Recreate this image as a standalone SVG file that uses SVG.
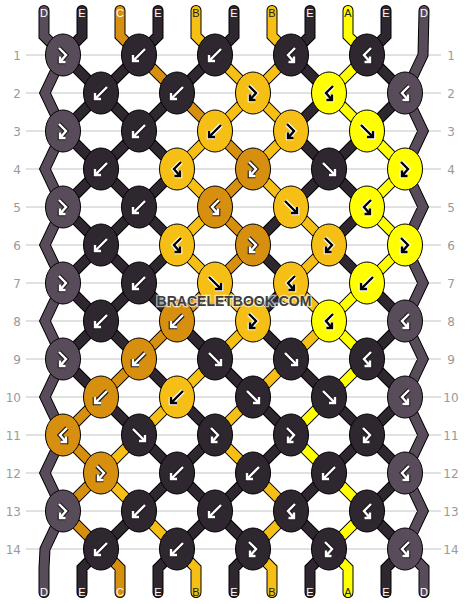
<svg xmlns="http://www.w3.org/2000/svg" xmlns:xlink="http://www.w3.org/1999/xlink" width="468" height="604" viewBox="0 0 468 604">
<style>
.grid{fill:none;stroke:#c4c4c4;stroke-width:1}
.rn{font-family:"DejaVu Sans","Liberation Sans",sans-serif;font-size:12px;fill:#9a9a9a}
.o{fill:none;stroke:#000;stroke-width:11;stroke-linecap:round;stroke-linejoin:miter}
.s{fill:none;stroke-width:9;stroke-linecap:round;stroke-linejoin:miter}
.sD{stroke:#594c5a}.sE{stroke:#2f272f}.sC{stroke:#d78f0f}.sB{stroke:#f6bf15}.sA{stroke:#ffff00}
ellipse{stroke:#000;stroke-width:1}
.D{fill:#594c5a}.E{fill:#2f272f}.C{fill:#d78f0f}.B{fill:#f6bf15}.A{fill:#ffff00}
.w{color:#1e1a1e;stroke:#fff}
.k{color:#fff;stroke:#000}
.lb{font-family:"Liberation Sans",Arial,sans-serif;font-size:11px;text-anchor:middle}
.lw{fill:#fff}.ld{fill:#222}
.wm{font-family:"Liberation Sans",Arial,sans-serif;font-size:14px;font-weight:bold;text-anchor:middle;fill:#3e3e3e;stroke:#fff;stroke-opacity:.65;stroke-width:2.5;paint-order:stroke}
</style>
<defs>
<g id="F" fill="none" stroke-linejoin="miter"><path d="M-6,-6L6,6M6,0V6H0" stroke="currentColor" stroke-width="4.6"/><path d="M-6,-6L6,6M6,0V6H0" stroke-width="2.4"/></g>
<g id="B" fill="none" stroke-linejoin="miter"><path d="M6,-6L-6,6M-6,0V6H0" stroke="currentColor" stroke-width="4.6"/><path d="M6,-6L-6,6M-6,0V6H0" stroke-width="2.4"/></g>
<g id="FB" fill="none" stroke-linejoin="miter"><path d="M-4,-7L3,0L-3,7M-3,1.5V7H2.5" stroke="currentColor" stroke-width="4.6"/><path d="M-4,-7L3,0L-3,7M-3,1.5V7H2.5" stroke-width="2.4"/></g>
<g id="BF" fill="none" stroke-linejoin="miter"><path d="M4,-7L-3,0L3,7M3,1.5V7H-2.5" stroke="currentColor" stroke-width="4.6"/><path d="M4,-7L-3,0L3,7M3,1.5V7H-2.5" stroke-width="2.4"/></g>
</defs>
<rect width="468" height="604" fill="#fff"/>
<g id="rows">
<path class="grid" d="M26,55H441M26,93H441M26,131H441M26,169H441M26,207H441M26,245H441M26,283H441M26,321H441M26,359H441M26,397H441M26,435H441M26,473H441M26,511H441M26,549H441"/>
<g class="rn" text-anchor="end">
<text x="21" y="59.5">1</text><text x="21" y="97.5">2</text><text x="21" y="135.5">3</text><text x="21" y="173.5">4</text><text x="21" y="211.5">5</text><text x="21" y="249.5">6</text><text x="21" y="287.5">7</text><text x="21" y="325.5">8</text><text x="21" y="363.5">9</text><text x="21" y="401.5">10</text><text x="21" y="439.5">11</text><text x="21" y="477.5">12</text><text x="21" y="515.5">13</text><text x="21" y="553.5">14</text>
</g>
<g class="rn" text-anchor="middle">
<text x="451" y="59.5">1</text><text x="451" y="97.5">2</text><text x="451" y="135.5">3</text><text x="451" y="173.5">4</text><text x="451" y="211.5">5</text><text x="451" y="249.5">6</text><text x="451" y="287.5">7</text><text x="451" y="325.5">8</text><text x="451" y="363.5">9</text><text x="451" y="401.5">10</text><text x="451" y="439.5">11</text><text x="451" y="477.5">12</text><text x="451" y="515.5">13</text><text x="451" y="553.5">14</text>
</g>
</g>
<g id="connectors">
<path id="allpaths" class="o" d="M367,55L405,93M291,55L405,169M215,55L405,245M139,55L405,321M63,55L405,397M63,131L405,473M63,207L405,549M63,283L329,549M63,359L253,549M63,435L177,549M63,511L101,549M139,55L63,131M215,55L63,207M291,55L63,283M367,55L63,359M405,93L63,435M405,169L63,511M405,245L101,549M405,321L177,549M405,397L253,549M405,473L329,549M82,10.5V36L63,55M120,10.5V36L139,55M158,10.5V36L139,55M196,10.5V36L215,55M234,10.5V36L215,55M272,10.5V36L291,55M310,10.5V36L291,55M348,10.5V36L367,55M386,10.5V36L367,55M101,549L82,568V592.5M101,549L120,568V592.5M177,549L158,568V592.5M177,549L196,568V592.5M253,549L234,568V592.5M253,549L272,568V592.5M329,549L310,568V592.5M329,549L348,568V592.5M405,549L386,568V592.5M44,10.5V36L63,55L45,93L63,131L45,169L63,207L45,245L63,283L45,321L63,359L45,397L63,435L45,473L63,511L45,549L44,568V592.5M424,10.5L423,55L405,93L423,131L405,169L423,207L405,245L423,283L405,321L423,359L405,397L423,435L405,473L423,511L405,549L424,568V592.5"/>
<path class="s sE" d="M367,55L405,93M291,55L405,169M215,55L405,245M139,55L405,321M63,55L405,397M63,131L405,473M63,207L405,549M63,283L329,549M63,359L253,549M63,435L177,549M63,511L101,549M139,55L63,131M215,55L63,207M291,55L63,283M367,55L63,359M405,93L63,435M405,169L63,511M405,245L101,549M405,321L177,549M405,397L253,549M405,473L329,549M82,10.5V36L63,55M158,10.5V36L139,55M234,10.5V36L215,55M310,10.5V36L291,55M386,10.5V36L367,55M101,549L82,568V592.5M177,549L158,568V592.5M253,549L234,568V592.5M329,549L310,568V592.5M405,549L386,568V592.5"/>
<path class="s sD" d="M44,10.5V36L63,55L45,93L63,131L45,169L63,207L45,245L63,283L45,321L63,359L45,397L63,435L45,473L63,511L45,549L44,568V592.5M424,10.5L423,55L405,93L423,131L405,169L423,207L405,245L423,283L405,321L423,359L405,397L423,435L405,473L423,511L405,549L424,568V592.5"/>
<path class="s sC" d="M120,10.5V36L139,55M139,55L177,93M177,93L215,131M215,131L253,169M253,169L215,207M215,207L253,245M253,245L215,283M215,283L177,321M177,321L139,359M139,359L101,397M101,397L63,435M63,435L101,473M101,473L63,511M63,511L101,549M101,549L120,568V592.5"/>
<path class="s sB" d="M196,10.5V36L215,55M272,10.5V36L291,55M215,55L253,93M291,55L253,93M253,93L215,131M253,93L291,131M215,131L177,169M291,131L253,169M177,169L215,207M253,169L291,207M215,207L177,245M291,207L329,245M177,245L215,283M329,245L291,283M215,283L253,321M291,283L329,321M253,321L215,359M329,321L291,359M215,359L177,397M291,359L253,397M177,397L139,435M253,397L215,435M139,435L101,473M215,435L253,473M101,473L139,511M253,473L291,511M139,511L177,549M291,511L253,549M177,549L196,568V592.5M253,549L272,568V592.5"/>
<path class="s sA" d="M348,10.5V36L367,55M367,55L329,93M329,93L367,131M367,131L405,169M405,169L367,207M367,207L405,245M405,245L367,283M367,283L329,321M329,321L367,359M367,359L329,397M329,397L291,435M291,435L329,473M329,473L367,511M367,511L329,549M329,549L348,568V592.5"/>
</g>
<g id="strings-top">
<text class="lb lw" x="44" y="16.5">D</text><text class="lb lw" x="82" y="16.5">E</text><text class="lb lw" x="120" y="16.5">C</text><text class="lb lw" x="158" y="16.5">E</text><text class="lb ld" x="196" y="16.5">B</text><text class="lb lw" x="234" y="16.5">E</text><text class="lb ld" x="272" y="16.5">B</text><text class="lb lw" x="310" y="16.5">E</text><text class="lb ld" x="348" y="16.5">A</text><text class="lb lw" x="386" y="16.5">E</text><text class="lb lw" x="424" y="16.5">D</text>
</g>
<g id="strings-bottom">
<text class="lb lw" x="44" y="595.5">D</text><text class="lb lw" x="82" y="595.5">E</text><text class="lb lw" x="120" y="595.5">C</text><text class="lb lw" x="158" y="595.5">E</text><text class="lb ld" x="196" y="595.5">B</text><text class="lb lw" x="234" y="595.5">E</text><text class="lb ld" x="272" y="595.5">B</text><text class="lb lw" x="310" y="595.5">E</text><text class="lb ld" x="348" y="595.5">A</text><text class="lb lw" x="386" y="595.5">E</text><text class="lb lw" x="424" y="595.5">D</text>
</g>
<g id="knots">
<g id="k1-1"><ellipse class="D" cx="63" cy="55" rx="17.5" ry="21"/><use href="#FB" x="63" y="55" class="w"/></g>
<g id="k1-2"><ellipse class="E" cx="139" cy="55" rx="17.5" ry="21"/><use href="#B" x="139" y="55" class="w"/></g>
<g id="k1-3"><ellipse class="E" cx="215" cy="55" rx="17.5" ry="21"/><use href="#B" x="215" y="55" class="w"/></g>
<g id="k1-4"><ellipse class="E" cx="291" cy="55" rx="17.5" ry="21"/><use href="#BF" x="291" y="55" class="w"/></g>
<g id="k1-5"><ellipse class="E" cx="367" cy="55" rx="17.5" ry="21"/><use href="#BF" x="367" y="55" class="w"/></g>
<g id="k2-1"><ellipse class="E" cx="101" cy="93" rx="17.5" ry="21"/><use href="#B" x="101" y="93" class="w"/></g>
<g id="k2-2"><ellipse class="E" cx="177" cy="93" rx="17.5" ry="21"/><use href="#B" x="177" y="93" class="w"/></g>
<g id="k2-3"><ellipse class="B" cx="253" cy="93" rx="17.5" ry="21"/><use href="#FB" x="253" y="93" class="k"/></g>
<g id="k2-4"><ellipse class="A" cx="329" cy="93" rx="17.5" ry="21"/><use href="#BF" x="329" y="93" class="k"/></g>
<g id="k2-5"><ellipse class="D" cx="405" cy="93" rx="17.5" ry="21"/><use href="#BF" x="405" y="93" class="w"/></g>
<g id="k3-1"><ellipse class="D" cx="63" cy="131" rx="17.5" ry="21"/><use href="#FB" x="63" y="131" class="w"/></g>
<g id="k3-2"><ellipse class="E" cx="139" cy="131" rx="17.5" ry="21"/><use href="#B" x="139" y="131" class="w"/></g>
<g id="k3-3"><ellipse class="B" cx="215" cy="131" rx="17.5" ry="21"/><use href="#B" x="215" y="131" class="k"/></g>
<g id="k3-4"><ellipse class="B" cx="291" cy="131" rx="17.5" ry="21"/><use href="#FB" x="291" y="131" class="k"/></g>
<g id="k3-5"><ellipse class="A" cx="367" cy="131" rx="17.5" ry="21"/><use href="#F" x="367" y="131" class="k"/></g>
<g id="k4-1"><ellipse class="E" cx="101" cy="169" rx="17.5" ry="21"/><use href="#B" x="101" y="169" class="w"/></g>
<g id="k4-2"><ellipse class="B" cx="177" cy="169" rx="17.5" ry="21"/><use href="#BF" x="177" y="169" class="k"/></g>
<g id="k4-3"><ellipse class="C" cx="253" cy="169" rx="17.5" ry="21"/><use href="#FB" x="253" y="169" class="w"/></g>
<g id="k4-4"><ellipse class="E" cx="329" cy="169" rx="17.5" ry="21"/><use href="#F" x="329" y="169" class="w"/></g>
<g id="k4-5"><ellipse class="A" cx="405" cy="169" rx="17.5" ry="21"/><use href="#FB" x="405" y="169" class="k"/></g>
<g id="k5-1"><ellipse class="D" cx="63" cy="207" rx="17.5" ry="21"/><use href="#FB" x="63" y="207" class="w"/></g>
<g id="k5-2"><ellipse class="E" cx="139" cy="207" rx="17.5" ry="21"/><use href="#B" x="139" y="207" class="w"/></g>
<g id="k5-3"><ellipse class="C" cx="215" cy="207" rx="17.5" ry="21"/><use href="#BF" x="215" y="207" class="w"/></g>
<g id="k5-4"><ellipse class="B" cx="291" cy="207" rx="17.5" ry="21"/><use href="#F" x="291" y="207" class="k"/></g>
<g id="k5-5"><ellipse class="A" cx="367" cy="207" rx="17.5" ry="21"/><use href="#BF" x="367" y="207" class="k"/></g>
<g id="k6-1"><ellipse class="E" cx="101" cy="245" rx="17.5" ry="21"/><use href="#B" x="101" y="245" class="w"/></g>
<g id="k6-2"><ellipse class="B" cx="177" cy="245" rx="17.5" ry="21"/><use href="#BF" x="177" y="245" class="k"/></g>
<g id="k6-3"><ellipse class="C" cx="253" cy="245" rx="17.5" ry="21"/><use href="#FB" x="253" y="245" class="w"/></g>
<g id="k6-4"><ellipse class="B" cx="329" cy="245" rx="17.5" ry="21"/><use href="#FB" x="329" y="245" class="k"/></g>
<g id="k6-5"><ellipse class="A" cx="405" cy="245" rx="17.5" ry="21"/><use href="#FB" x="405" y="245" class="k"/></g>
<g id="k7-1"><ellipse class="D" cx="63" cy="283" rx="17.5" ry="21"/><use href="#FB" x="63" y="283" class="w"/></g>
<g id="k7-2"><ellipse class="E" cx="139" cy="283" rx="17.5" ry="21"/><use href="#B" x="139" y="283" class="w"/></g>
<g id="k7-3"><ellipse class="B" cx="215" cy="283" rx="17.5" ry="21"/><use href="#F" x="215" y="283" class="k"/></g>
<g id="k7-4"><ellipse class="B" cx="291" cy="283" rx="17.5" ry="21"/><use href="#BF" x="291" y="283" class="k"/></g>
<g id="k7-5"><ellipse class="A" cx="367" cy="283" rx="17.5" ry="21"/><use href="#B" x="367" y="283" class="k"/></g>
<g id="k8-1"><ellipse class="E" cx="101" cy="321" rx="17.5" ry="21"/><use href="#B" x="101" y="321" class="w"/></g>
<g id="k8-2"><ellipse class="C" cx="177" cy="321" rx="17.5" ry="21"/><use href="#B" x="177" y="321" class="w"/></g>
<g id="k8-3"><ellipse class="B" cx="253" cy="321" rx="17.5" ry="21"/><use href="#FB" x="253" y="321" class="k"/></g>
<g id="k8-4"><ellipse class="A" cx="329" cy="321" rx="17.5" ry="21"/><use href="#BF" x="329" y="321" class="k"/></g>
<g id="k8-5"><ellipse class="D" cx="405" cy="321" rx="17.5" ry="21"/><use href="#BF" x="405" y="321" class="w"/></g>
<g id="k9-1"><ellipse class="D" cx="63" cy="359" rx="17.5" ry="21"/><use href="#FB" x="63" y="359" class="w"/></g>
<g id="k9-2"><ellipse class="C" cx="139" cy="359" rx="17.5" ry="21"/><use href="#B" x="139" y="359" class="w"/></g>
<g id="k9-3"><ellipse class="E" cx="215" cy="359" rx="17.5" ry="21"/><use href="#F" x="215" y="359" class="w"/></g>
<g id="k9-4"><ellipse class="E" cx="291" cy="359" rx="17.5" ry="21"/><use href="#F" x="291" y="359" class="w"/></g>
<g id="k9-5"><ellipse class="E" cx="367" cy="359" rx="17.5" ry="21"/><use href="#BF" x="367" y="359" class="w"/></g>
<g id="k10-1"><ellipse class="C" cx="101" cy="397" rx="17.5" ry="21"/><use href="#B" x="101" y="397" class="w"/></g>
<g id="k10-2"><ellipse class="B" cx="177" cy="397" rx="17.5" ry="21"/><use href="#B" x="177" y="397" class="k"/></g>
<g id="k10-3"><ellipse class="E" cx="253" cy="397" rx="17.5" ry="21"/><use href="#F" x="253" y="397" class="w"/></g>
<g id="k10-4"><ellipse class="E" cx="329" cy="397" rx="17.5" ry="21"/><use href="#F" x="329" y="397" class="w"/></g>
<g id="k10-5"><ellipse class="D" cx="405" cy="397" rx="17.5" ry="21"/><use href="#BF" x="405" y="397" class="w"/></g>
<g id="k11-1"><ellipse class="C" cx="63" cy="435" rx="17.5" ry="21"/><use href="#BF" x="63" y="435" class="w"/></g>
<g id="k11-2"><ellipse class="E" cx="139" cy="435" rx="17.5" ry="21"/><use href="#F" x="139" y="435" class="w"/></g>
<g id="k11-3"><ellipse class="E" cx="215" cy="435" rx="17.5" ry="21"/><use href="#FB" x="215" y="435" class="w"/></g>
<g id="k11-4"><ellipse class="E" cx="291" cy="435" rx="17.5" ry="21"/><use href="#FB" x="291" y="435" class="w"/></g>
<g id="k11-5"><ellipse class="E" cx="367" cy="435" rx="17.5" ry="21"/><use href="#FB" x="367" y="435" class="w"/></g>
<g id="k12-1"><ellipse class="C" cx="101" cy="473" rx="17.5" ry="21"/><use href="#FB" x="101" y="473" class="w"/></g>
<g id="k12-2"><ellipse class="E" cx="177" cy="473" rx="17.5" ry="21"/><use href="#B" x="177" y="473" class="w"/></g>
<g id="k12-3"><ellipse class="E" cx="253" cy="473" rx="17.5" ry="21"/><use href="#B" x="253" y="473" class="w"/></g>
<g id="k12-4"><ellipse class="E" cx="329" cy="473" rx="17.5" ry="21"/><use href="#B" x="329" y="473" class="w"/></g>
<g id="k12-5"><ellipse class="D" cx="405" cy="473" rx="17.5" ry="21"/><use href="#BF" x="405" y="473" class="w"/></g>
<g id="k13-1"><ellipse class="D" cx="63" cy="511" rx="17.5" ry="21"/><use href="#FB" x="63" y="511" class="w"/></g>
<g id="k13-2"><ellipse class="E" cx="139" cy="511" rx="17.5" ry="21"/><use href="#B" x="139" y="511" class="w"/></g>
<g id="k13-3"><ellipse class="E" cx="215" cy="511" rx="17.5" ry="21"/><use href="#B" x="215" y="511" class="w"/></g>
<g id="k13-4"><ellipse class="E" cx="291" cy="511" rx="17.5" ry="21"/><use href="#BF" x="291" y="511" class="w"/></g>
<g id="k13-5"><ellipse class="E" cx="367" cy="511" rx="17.5" ry="21"/><use href="#BF" x="367" y="511" class="w"/></g>
<g id="k14-1"><ellipse class="E" cx="101" cy="549" rx="17.5" ry="21"/><use href="#B" x="101" y="549" class="w"/></g>
<g id="k14-2"><ellipse class="E" cx="177" cy="549" rx="17.5" ry="21"/><use href="#B" x="177" y="549" class="w"/></g>
<g id="k14-3"><ellipse class="E" cx="253" cy="549" rx="17.5" ry="21"/><use href="#FB" x="253" y="549" class="w"/></g>
<g id="k14-4"><ellipse class="E" cx="329" cy="549" rx="17.5" ry="21"/><use href="#FB" x="329" y="549" class="w"/></g>
<g id="k14-5"><ellipse class="D" cx="405" cy="549" rx="17.5" ry="21"/><use href="#BF" x="405" y="549" class="w"/></g>
</g>
<text id="watermark" class="wm" x="234" y="306">BRACELETBOOK.COM</text>
</svg>
